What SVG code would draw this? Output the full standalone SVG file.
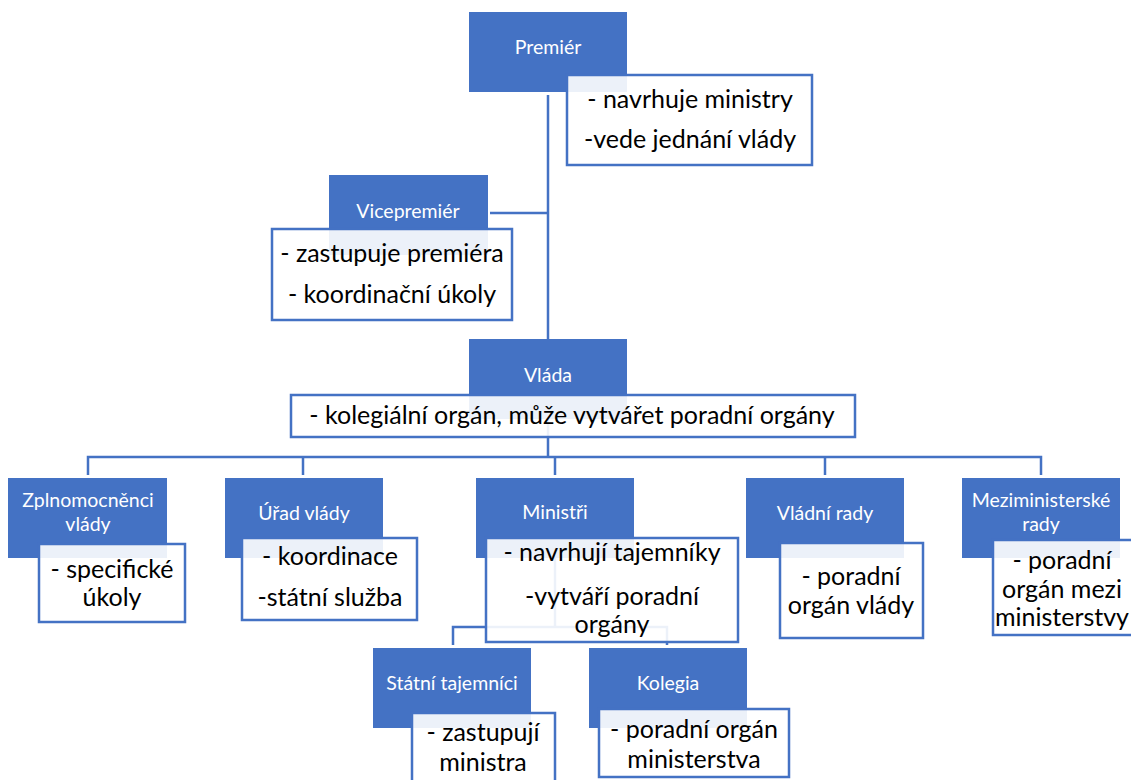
<svg xmlns="http://www.w3.org/2000/svg" width="1131" height="780" viewBox="0 0 1131 780">
  <style>
    .head { fill: #4472C4; }
    .note { fill: #ffffff; fill-opacity: 0.9; stroke: #4472C4; stroke-width: 2.5; }
    .link { fill: none; stroke: #4472C4; stroke-width: 2.5; }
    .hl { font-family: Lato, "Liberation Sans", sans-serif; font-size: 19.5px; fill: #ffffff; text-anchor: middle; }
    .tx { font-family: Lato, "Liberation Sans", sans-serif; font-size: 25px; fill: #000000; text-anchor: middle; }
  </style>
  <rect width="1131" height="780" fill="#ffffff"/>

  <!-- connectors -->
  <g id="connectors">
    <path class="link" d="M548 95 V457"/>
    <path class="link" d="M490 213 H548"/>
    <path class="link" d="M88 475 V457 H1041 V475"/>
    <path class="link" d="M303 457 V475"/>
    <path class="link" d="M555 457 V475"/>
    <path class="link" d="M825 457 V475"/>
    <path class="link" d="M555 558 V627 M453 645 V627 H667 V645"/>
  </g>

  <g id="premier">
    <rect class="head" x="469" y="12" width="158" height="80"/>
    <text class="hl" x="548" y="54">Premiér</text>
    <rect class="note" x="567" y="75" width="245" height="90"/>
    <text class="tx" x="690" y="108">- navrhuje ministry</text>
    <text class="tx" x="690" y="148">-vede jednání vlády</text>
  </g>

  <g id="vicepremier">
    <rect class="head" x="329" y="175" width="159" height="80"/>
    <text class="hl" x="408" y="218">Vicepremiér</text>
    <rect class="note" x="272" y="229" width="240" height="91"/>
    <text class="tx" x="392" y="262">- zastupuje premiéra</text>
    <text class="tx" x="392" y="303">- koordinační úkoly</text>
  </g>

  <g id="vlada">
    <rect class="head" x="469" y="339" width="158" height="80"/>
    <text class="hl" x="548" y="382">Vláda</text>
    <rect class="note" x="291" y="395" width="564" height="42"/>
    <text class="tx" x="572" y="424">- kolegiální orgán, může vytvářet poradní orgány</text>
  </g>

  <g id="zplnomocnenci">
    <rect class="head" x="8" y="478" width="159" height="80"/>
    <text class="hl" x="88" y="507">Zplnomocněnci</text>
    <text class="hl" x="88" y="531">vlády</text>
    <rect class="note" x="39" y="544" width="146" height="78"/>
    <text class="tx" x="112" y="578">- specifické</text>
    <text class="tx" x="112" y="606">úkoly</text>
  </g>

  <g id="urad-vlady">
    <rect class="head" x="225" y="478" width="158" height="80"/>
    <text class="hl" x="304" y="520">Úřad vlády</text>
    <rect class="note" x="242" y="538" width="175" height="82"/>
    <text class="tx" x="330" y="565">- koordinace</text>
    <text class="tx" x="330" y="606">-státní služba</text>
  </g>

  <g id="ministri">
    <rect class="head" x="476" y="478" width="158" height="80"/>
    <text class="hl" x="555" y="519">Ministři</text>
    <rect class="note" x="486" y="538" width="252" height="104"/>
    <text class="tx" x="612" y="561">- navrhují tajemníky</text>
    <text class="tx" x="612" y="605">-vytváří poradní</text>
    <text class="tx" x="612" y="633">orgány</text>
  </g>

  <g id="vladni-rady">
    <rect class="head" x="746" y="478" width="158" height="80"/>
    <text class="hl" x="825" y="520">Vládní rady</text>
    <rect class="note" x="780" y="543" width="143" height="95"/>
    <text class="tx" x="851" y="585">- poradní</text>
    <text class="tx" x="851" y="614">orgán vlády</text>
  </g>

  <g id="meziministerske-rady">
    <rect class="head" x="962" y="478" width="158" height="80"/>
    <text class="hl" x="1041" y="507">Meziministerské</text>
    <text class="hl" x="1041" y="531">rady</text>
    <rect class="note" x="993" y="540" width="142" height="95"/>
    <text class="tx" x="1062" y="569">- poradní</text>
    <text class="tx" x="1062" y="598">orgán mezi</text>
    <text class="tx" x="1062" y="626">ministerstvy</text>
  </g>

  <g id="statni-tajemnici">
    <rect class="head" x="373" y="648" width="158" height="80"/>
    <text class="hl" x="452" y="690">Státní tajemníci</text>
    <rect class="note" x="412" y="713" width="143" height="72"/>
    <text class="tx" x="483" y="741">- zastupují</text>
    <text class="tx" x="483" y="771">ministra</text>
  </g>

  <g id="kolegia">
    <rect class="head" x="589" y="648" width="158" height="80"/>
    <text class="hl" x="668" y="690">Kolegia</text>
    <rect class="note" x="599" y="709" width="190" height="68"/>
    <text class="tx" x="694" y="738">- poradní orgán</text>
    <text class="tx" x="694" y="768">ministerstva</text>
  </g>
</svg>
